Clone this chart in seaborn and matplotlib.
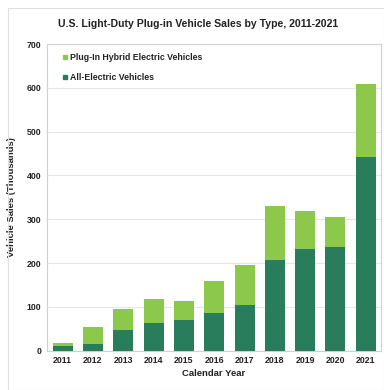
import matplotlib
matplotlib.use("Agg")
import matplotlib.pyplot as plt
from matplotlib.lines import Line2D
from matplotlib.patches import Rectangle
import seaborn as sns
import pandas as pd

years = ["2011", "2012", "2013", "2014", "2015", "2016", "2017", "2018", "2019", "2020", "2021"]
all_electric = [10, 15, 47, 63, 70, 86, 104, 207, 233, 237, 443]
plug_in_hybrid = [8, 38, 49, 55, 43, 72, 91, 123, 86, 69, 165]

phev_color = "#8cc84b"
bev_color = "#2a7d5c"

df = pd.DataFrame({"year": years, "bev": all_electric, "phev": plug_in_hybrid})
df["total"] = df["bev"] + df["phev"]

sns.set_theme(style="white")
plt.rcParams["font.family"] = ["Liberation Sans", "DejaVu Sans"]

fig = plt.figure(figsize=(3.84, 3.90), dpi=100)
ax = fig.add_axes([0.122, 0.101, 0.870, 0.786])

# stacked bars: totals (hybrid on top) drawn first, all-electric over them
sns.barplot(data=df, x="year", y="total", color=phev_color, width=0.66,
            saturation=1, linewidth=0, ax=ax, zorder=3)
sns.barplot(data=df, x="year", y="bev", color=bev_color, width=0.66,
            saturation=1, linewidth=0, ax=ax, zorder=4)

ax.set_ylim(0, 700)
ax.set_xlim(-0.52, 10.5)
ax.set_yticks(range(0, 701, 100))
ax.yaxis.grid(True, color="#e6e6e6", linewidth=0.8, zorder=0)
ax.set_axisbelow(True)
for s in ax.spines.values():
    s.set_color("#d0d0d0")
    s.set_linewidth(0.8)
ax.tick_params(axis="both", length=0, labelsize=6.3, colors="#222222", pad=4)
for lbl in ax.get_xticklabels() + ax.get_yticklabels():
    lbl.set_fontweight("bold")

ax.set_xlabel("Calendar Year", fontsize=6.8, fontweight="bold", color="#222222", labelpad=3)
ax.set_ylabel("Vehicle Sales (Thousands)", fontsize=6.8, fontweight="bold", color="#222222")
ax.yaxis.set_label_coords(-0.093, 0.5)
fig.suptitle("U.S. Light-Duty Plug-in Vehicle Sales by Type, 2011-2021",
             x=0.515, y=0.952, fontsize=7.6, fontweight="bold", color="#222222")

handles = [
    Line2D([], [], marker="s", linestyle="", color=phev_color, markersize=3),
    Line2D([], [], marker="s", linestyle="", color=bev_color, markersize=3),
]
leg = ax.legend(handles, ["Plug-In Hybrid Electric Vehicles", "All-Electric Vehicles"],
                loc="upper left", frameon=False, fontsize=6.3, handlelength=0.6,
                handletextpad=0.3, labelspacing=1.3, borderaxespad=0.6,
                bbox_to_anchor=(0.02, 1.0))
for t in leg.get_texts():
    t.set_fontweight("bold")
    t.set_color("#222222")

fig.patches.append(Rectangle((0.02, 0.0), 0.98, 0.98, transform=fig.transFigure,
                             fill=False, edgecolor="#e0e0e0", linewidth=0.8))

fig.savefig("out.png", dpi=100)
